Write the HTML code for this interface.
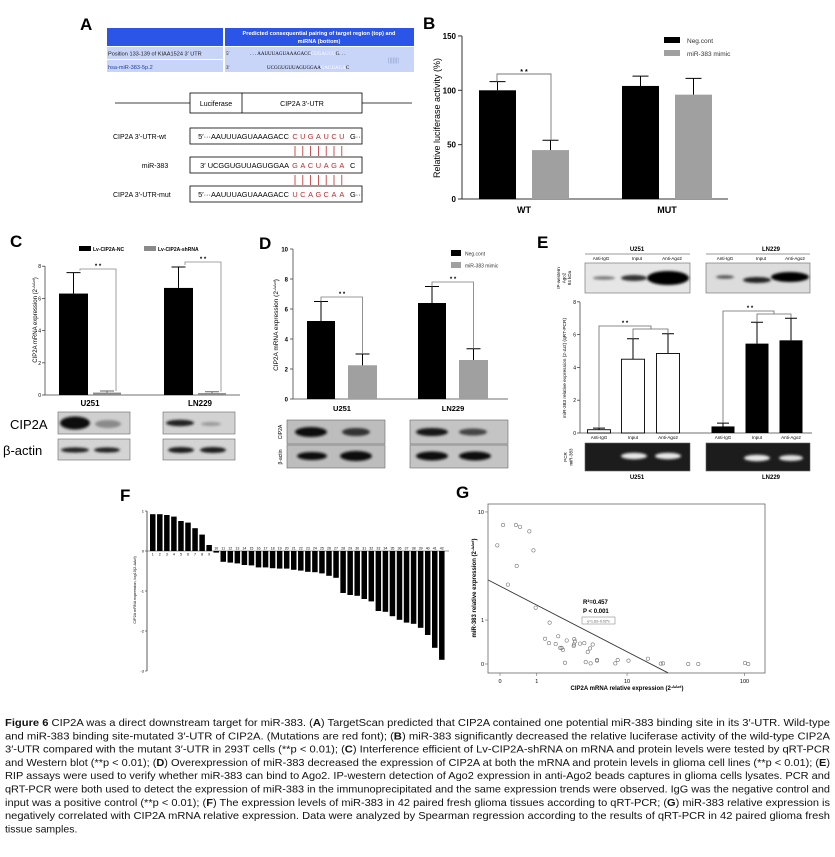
<!DOCTYPE html>
<html><head><meta charset="utf-8"><style>
html,body{margin:0;padding:0;background:#fff}
svg{display:block;font-family:"Liberation Sans",Arial,sans-serif}
</style></head><body>
<svg id="fig" width="835" height="857" viewBox="0 0 835 857" xmlns="http://www.w3.org/2000/svg">
<defs><filter id="bl" x="-50%" y="-100%" width="200%" height="300%"><feGaussianBlur stdDeviation="1.4"/></filter></defs>
<rect width="835" height="857" fill="#fff"/>

<!-- Panel A -->
<g>
<text x="80" y="30" font-size="17" font-weight="bold">A</text>
<rect x="107" y="28" width="116" height="18" fill="#2b55e6"/>
<rect x="225" y="28" width="189" height="18" fill="#2b55e6"/>
<text x="319" y="35" font-size="5.6" font-weight="bold" fill="#fff" text-anchor="middle">Predicted consequential pairing of target region (top) and</text>
<text x="319" y="43" font-size="5.6" font-weight="bold" fill="#fff" text-anchor="middle">miRNA (bottom)</text>
<rect x="107" y="47" width="116" height="12" fill="#c9d5f8"/>
<rect x="225" y="47" width="189" height="25" fill="#c9d5f8"/>
<rect x="107" y="60" width="116" height="12" fill="#c9d5f8"/>
<text x="108" y="55.5" font-size="5.6" fill="#222">Position 133-139 of KIAA1524 3′ UTR</text>
<text x="108" y="69" font-size="5.6" fill="#2240b0">hsa-miR-383-5p.2</text>
<text x="226" y="55" font-size="5" font-family="Liberation Serif,serif">5′</text>
<text x="250" y="55" font-size="5" font-family="Liberation Serif,serif">. . . AAUUUAGUAAAGACC<tspan fill="#fff">CUGAUCU</tspan>G. . .</text>
<text x="226" y="69" font-size="5" font-family="Liberation Serif,serif">3′</text>
<text x="267" y="69" font-size="5" font-family="Liberation Serif,serif">UCGGUGUUAGUGGAA<tspan fill="#fff">GACUAGA</tspan>C</text>
<text x="388" y="62" font-size="6" fill="#8899cc">|||||||</text>

<line x1="115" y1="103" x2="190" y2="103" stroke="#000" stroke-width="0.8"/>
<line x1="362" y1="103" x2="412" y2="103" stroke="#000" stroke-width="0.8"/>
<rect x="190" y="93" width="172" height="20" fill="#fff" stroke="#000" stroke-width="0.8"/>
<line x1="242" y1="93" x2="242" y2="113" stroke="#000" stroke-width="0.8"/>
<text x="216" y="106" font-size="7" text-anchor="middle">Luciferase</text>
<text x="302" y="106" font-size="7" text-anchor="middle">CIP2A  3′-UTR</text>

<rect x="190" y="128" width="172" height="16" fill="none" stroke="#000" stroke-width="0.8"/>
<rect x="190" y="157" width="172" height="16" fill="none" stroke="#000" stroke-width="0.8"/>
<rect x="190" y="186" width="172" height="16" fill="none" stroke="#000" stroke-width="0.8"/>
<text x="113" y="139" font-size="7">CIP2A  3′-UTR-wt</text>
<text x="155" y="168" font-size="7" text-anchor="middle">miR-383</text>
<text x="113" y="197" font-size="7">CIP2A  3′-UTR-mut</text>
<text x="289" y="139" font-size="7.4" text-anchor="end">5′···AAUUUAGUAAAGACC</text>
<text x="289" y="168" font-size="7.4" text-anchor="end">3′  UCGGUGUUAGUGGAA</text>
<text x="289" y="197" font-size="7.4" text-anchor="end">5′···AAUUUAGUAAAGACC</text>
<g id="seqA"></g>
</g>

<!-- Panel labels -->
<text x="423" y="29" font-size="17" font-weight="bold">B</text>
<text x="10" y="247" font-size="17" font-weight="bold">C</text>
<text x="259" y="249" font-size="17" font-weight="bold">D</text>
<text x="537" y="248" font-size="17" font-weight="bold">E</text>
<text x="120" y="501" font-size="17" font-weight="bold">F</text>
<text x="456" y="498" font-size="17" font-weight="bold">G</text>

<g id="charts"></g>

<!-- Caption -->
<g font-size="10.5" fill="#111">
<text x="5" y="726" textLength="825" lengthAdjust="spacingAndGlyphs"><tspan font-weight="bold">Figure 6</tspan> CIP2A was a direct downstream target for miR-383. (<tspan font-weight="bold">A</tspan>) TargetScan predicted that CIP2A contained one potential miR-383 binding site in its 3′-UTR. Wild-type</text>
<text x="5" y="739.3" textLength="825" lengthAdjust="spacingAndGlyphs">and miR-383 binding site-mutated 3′-UTR of CIP2A. (Mutations are red font); (<tspan font-weight="bold">B</tspan>) miR-383 significantly decreased the relative luciferase activity of the wild-type CIP2A</text>
<text x="5" y="752.6" textLength="825" lengthAdjust="spacingAndGlyphs">3′-UTR compared with the mutant 3′-UTR in 293T cells (**p &lt; 0.01); (<tspan font-weight="bold">C</tspan>) Interference efficient of Lv-CIP2A-shRNA on mRNA and protein levels were tested by qRT-PCR</text>
<text x="5" y="765.9" textLength="825" lengthAdjust="spacingAndGlyphs">and Western blot (**p &lt; 0.01); (<tspan font-weight="bold">D</tspan>) Overexpression of miR-383 decreased the expression of CIP2A at both the mRNA and protein levels in glioma cell lines (**p &lt; 0.01); (<tspan font-weight="bold">E</tspan>)</text>
<text x="5" y="779.2" textLength="825" lengthAdjust="spacingAndGlyphs">RIP assays were used to verify whether miR-383 can bind to Ago2. IP-western detection of Ago2 expression in anti-Ago2 beads captures in glioma cells lysates. PCR and</text>
<text x="5" y="792.5" textLength="825" lengthAdjust="spacingAndGlyphs">qRT-PCR were both used to detect the expression of miR-383 in the immunoprecipitated and the same expression trends were observed. IgG was the negative control and</text>
<text x="5" y="805.8" textLength="825" lengthAdjust="spacingAndGlyphs">input was a positive control (**p &lt; 0.01); (<tspan font-weight="bold">F</tspan>) The expression levels of miR-383 in 42 paired fresh glioma tissues according to qRT-PCR; (<tspan font-weight="bold">G</tspan>) miR-383 relative expression is</text>
<text x="5" y="819.1" textLength="825" lengthAdjust="spacingAndGlyphs">negatively correlated with CIP2A mRNA relative expression. Data were analyzed by Spearman regression according to the results of qRT-PCR in 42 paired glioma fresh</text>
<text x="5" y="832.4">tissue samples.</text>
</g>
</svg>

<script>
// ---------- data ----------
const bCategories = ['WT', 'MUT'];
const bNegCont = [100, 104];
const bNegErr = [8, 9];
const bMimic = [45, 96];
const bMimicErr = [9, 15];
const bTicks = [0, 50, 100, 150];

const cCategories = ['U251', 'LN229'];
const cNC = [6.3, 6.65];
const cNCErr = [1.3, 1.3];
const cSh = [0.15, 0.12];
const cShErr = [0.1, 0.08];
const cTicks = [0, 2, 4, 6, 8];

const dCategories = ['U251', 'LN229'];
const dNeg = [5.2, 6.4];
const dNegErr = [1.3, 1.1];
const dMimic = [2.25, 2.6];
const dMimicErr = [0.75, 0.75];
const dTicks = [0, 2, 4, 6, 8, 10];

const eCategories = ['Anti-IgG', 'Input', 'Anti-Ago2'];
const eU251 = [0.2, 4.5, 4.85];
const eU251Err = [0.1, 1.25, 1.2];
const eLN229 = [0.4, 5.45, 5.65];
const eLN229Err = [0.2, 1.3, 1.35];
const eTicks = [0, 2, 4, 6, 8];

const fSamples = '1 2 3 4 5 6 7 8 9 10 11 12 13 14 15 16 17 18 19 20 21 22 23 24 25 26 27 28 29 30 31 32 33 34 35 36 37 38 39 40 41 42'.split(' ');
const fValues = [0.92, 0.92, 0.9, 0.86, 0.75, 0.71, 0.57, 0.41, 0.15, -0.04, -0.27, -0.29, -0.31, -0.35, -0.36, -0.41, -0.41, -0.43, -0.44, -0.44, -0.47, -0.49, -0.52, -0.53, -0.56, -0.62, -0.67, -1.05, -1.1, -1.12, -1.2, -1.26, -1.5, -1.52, -1.63, -1.72, -1.79, -1.82, -1.92, -2.1, -2.42, -2.72];
const fTicks = [1, 0, -1, -2, -3];

const gCIP2A = [0.06, -0.05, 0.35, 0.46, 0.74, 0.88, 0.37, 0.16, 0.96, 1.55, 1.34, 1.52, 1.86, 2.0, 2.12, 2.2, 2.28, 2.41, 2.52, 3.04, 3.06, 3.12, 3.02, 3.53, 3.91, 4.24, 4.47, 4.75, 4.04, 4.53, 5.24, 5.24, 7.81, 8.22, 10.3, 15.3, 19.8, 20.7, 33.9, 41.2, 100.9, 107.4];
const gMiR383 = [7.95, 5.5, 7.95, 7.7, 7.1, 5.0, 3.7, 2.5, 1.43, 0.92, 0.49, 0.39, 0.37, 0.55, 0.29, 0.29, 0.25, 0.02, 0.45, 0.36, 0.48, 0.43, 0.33, 0.38, 0.39, 0.21, 0.28, 0.36, 0.03, 0.01, 0.065, 0.055, 0.01, 0.065, 0.055, 0.087, 0.005, 0.01, 0, 0, 0.015, 0];
const gXTicks = [0, 1, 10, 100];
const gYTicks = [0, 1, 10];
const gRegX = [-0.2, 22.8];
const gRegY = [2.76, -0.13];

// ---------- helpers ----------
const NS = 'http://www.w3.org/2000/svg';
const root = document.getElementById('charts');
function mk(tag, attrs, parent) {
  const e = document.createElementNS(NS, tag);
  for (const k in attrs) e.setAttribute(k, attrs[k]);
  (parent || root).appendChild(e);
  return e;
}
function tx(x, y, s, attrs, parent) {
  const e = mk('text', Object.assign({x: x, y: y}, attrs || {}), parent);
  e.textContent = s;
  return e;
}
function errBar(cx, yTop, yBar, hw, color) {
  const l = mk('path', {d: `M${cx},${yBar}V${yTop}M${cx-hw},${yTop}H${cx+hw}`, stroke: color, 'stroke-width': 1, fill: 'none'});
  
  
}
function blot(x, y, w, h, bg, bands, name) {
  const g = mk('g', {});
  
  
  mk('rect', {x: x, y: y, width: w, height: h, fill: bg, stroke: '#666', 'stroke-width': 0.6}, g);
  bands.forEach(b => mk('ellipse', {cx: b[0], cy: b[1], rx: b[2], ry: b[3], fill: b[4], filter: 'url(#bl)'}, g));
}

// ---------- Panel A seed letters ----------
(function () {
  const g = document.getElementById('seqA');
  const rows = [['CUGAUCU', 139, 'G···'], ['GACUAGA', 168, 'C'], ['UCAGCAA', 197, 'G···']];
  rows.forEach(r => {
    for (let i = 0; i < 7; i++) {
      const t = tx(295 + 7.8 * i, r[1], r[0][i], {'font-size': 7.4, fill: '#c0282c', 'text-anchor': 'middle'}, g);
      
      
    }
    const s = tx(350, r[1], r[2], {'font-size': 7.4}, g);
    
    
  });
  [146, 175].forEach(y0 => {
    for (let i = 0; i < 7; i++) {
      const l = mk('line', {x1: 295 + 7.8 * i, x2: 295 + 7.8 * i, y1: y0, y2: y0 + 10, stroke: '#c0282c', 'stroke-width': 0.8}, g);
      
      
    }
  });
})();

// ---------- Panel B ----------
(function () {
  const y = v => 199 - v * 1.087;
  const centers = [524, 667];
  const ax = mk('path', {d: 'M462,36V199H728', stroke: '#333', 'stroke-width': 1, fill: 'none'});
  
  
  bTicks.forEach(t => {
    mk('line', {x1: 458, x2: 462, y1: y(t), y2: y(t), stroke: '#333'});
    const l = tx(456, y(t) + 3, String(t), {'font-size': 8, 'font-weight': 'bold', 'text-anchor': 'end'});
    
    
  });
  bCategories.forEach((c, i) => {
    const cx = centers[i];
    const b1 = mk('rect', {x: cx - 45, y: y(bNegCont[i]), width: 37, height: y(0) - y(bNegCont[i]), fill: '#000'});
    
    
    errBar(cx - 26.5, y(bNegCont[i] + bNegErr[i]), y(bNegCont[i]), 8, '#000');
    const b2 = mk('rect', {x: cx + 8, y: y(bMimic[i]), width: 37, height: y(0) - y(bMimic[i]), fill: '#a0a0a0'});
    
    
    errBar(cx + 26.5, y(bMimic[i] + bMimicErr[i]), y(bMimic[i]), 8, '#000');
    const l = tx(cx, 213, c, {'font-size': 9, 'font-weight': 'bold', 'text-anchor': 'middle'});
    
    
  });
  const br = mk('path', {d: `M497,${y(bNegCont[0]+bNegErr[0])}V74H551V${y(bMimic[0]+bMimicErr[0])}`, stroke: '#777', fill: 'none', 'stroke-width': 0.9});
  
  
  const st = tx(524, 74, '* *', {'font-size': 7, 'text-anchor': 'middle', 'font-weight': 'bold'});
  
  
  const yt = tx(0, 0, 'Relative luciferase activity (%)', {'font-size': 9, 'text-anchor': 'middle', transform: 'translate(440,118) rotate(-90)'});
  
  
  const l1 = mk('rect', {x: 664, y: 37, width: 16, height: 6, fill: '#000'});
  
  
  const lt1 = tx(687, 43, 'Neg.cont', {'font-size': 6.5, fill: '#333'});
  
  
  const l2 = mk('rect', {x: 664, y: 50, width: 16, height: 6, fill: '#a0a0a0'});
  
  
  const lt2 = tx(687, 56, 'miR-383 mimic', {'font-size': 6.5, fill: '#333'});
  
  
})();

// ---------- Panel C ----------
(function () {
  const y = v => 395 - v * 16.1;
  const centers = [92, 197];
  const ax = mk('path', {d: 'M45,266V395H240', stroke: '#444', 'stroke-width': 0.8, fill: 'none'});
  
  
  cTicks.forEach(t => {
    mk('line', {x1: 42, x2: 45, y1: y(t), y2: y(t), stroke: '#444', 'stroke-width': 0.8});
    const l = tx(41, y(t) + 2, String(t), {'font-size': 5, 'text-anchor': 'end'});
    
    
  });
  cCategories.forEach((c, i) => {
    const cx = centers[i];
    const b1 = mk('rect', {x: cx - 33, y: y(cNC[i]), width: 29, height: y(0) - y(cNC[i]), fill: '#000'});
    
    
    errBar(cx - 18.5, y(cNC[i] + cNCErr[i]), y(cNC[i]), 7, '#000');
    const b2 = mk('rect', {x: cx + 1, y: y(cSh[i]), width: 28, height: y(0) - y(cSh[i]), fill: '#8a8a8a'});
    
    
    errBar(cx + 15, y(cSh[i] + cShErr[i]), y(cSh[i]), 7, '#666');
    const l = tx(cx + (i ? 3 : -2), 406, c, {'font-size': 8, 'font-weight': 'bold', 'text-anchor': 'middle'});
    
    
    const topY = i ? 262 : 269;
    const br = mk('path', {d: `M${cx-12},${y(cNC[i]+cNCErr[i])-2}V${topY}H${cx+24}V${y(cSh[i]+cShErr[i])}`, stroke: '#888', fill: 'none', 'stroke-width': 0.8});
    
    
    const st = tx(cx + 6, topY - 1, '* *', {'font-size': 6, 'text-anchor': 'middle', 'font-weight': 'bold'});
    
    
  });
  const yt = tx(0, 0, 'CIP2A mRNA expression (2', {'font-size': 6, 'text-anchor': 'middle', transform: 'translate(37,320) rotate(-90)'});
  const sp = mk('tspan', {'font-size': 4, dy: -2}, yt); sp.textContent = '-ΔΔct';
  const sp2 = mk('tspan', {dy: 2}, yt); sp2.textContent = ')';
  
  
  const l1 = mk('rect', {x: 79, y: 246, width: 12, height: 5, fill: '#000'});
  
  
  const lt1 = tx(93, 251, 'Lv-CIP2A-NC', {'font-size': 5, 'font-weight': 'bold'});
  
  
  const l2 = mk('rect', {x: 144, y: 246, width: 12, height: 5, fill: '#8a8a8a'});
  
  
  const lt2 = tx(158, 251, 'Lv-CIP2A-shRNA', {'font-size': 5, 'font-weight': 'bold'});
  
  
  blot(58, 412, 72, 22, '#cfcfcf', [[75,423,15,6.5,'#111'],[108,424,13,4,'#8a8a8a']], 'c-blot-cip2a-u251');
  blot(163, 412, 72, 22, '#d2d2d2', [[180,423,14,3.2,'#222'],[211,424,10,2,'#9a9a9a']], 'c-blot-cip2a-ln229');
  blot(58, 439, 72, 21, '#d4d4d4', [[75,450,14,2.6,'#222'],[107,450,13,2.6,'#222']], 'c-blot-actin-u251');
  blot(163, 439, 72, 21, '#d4d4d4', [[181,450,13,3,'#1a1a1a'],[213,450,13,3,'#1a1a1a']], 'c-blot-actin-ln229');
  const bl1 = tx(10, 429, 'CIP2A', {'font-size': 13});
  
  
  const bl2 = tx(3, 455, 'β-actin', {'font-size': 13});
  
  
})();

// ---------- Panel D ----------
(function () {
  const y = v => 399 - v * 15;
  const centers = [342, 453];
  const ax = mk('path', {d: 'M293,249V399H508', stroke: '#444', 'stroke-width': 0.8, fill: 'none'});
  
  
  dTicks.forEach(t => {
    mk('line', {x1: 290, x2: 293, y1: y(t), y2: y(t), stroke: '#444', 'stroke-width': 0.8});
    const l = tx(288, y(t) + 2.5, String(t), {'font-size': 6, 'text-anchor': 'end', 'font-weight': 'bold'});
    
    
  });
  dCategories.forEach((c, i) => {
    const cx = centers[i];
    const b1 = mk('rect', {x: cx - 35, y: y(dNeg[i]), width: 28, height: y(0) - y(dNeg[i]), fill: '#000'});
    
    
    errBar(cx - 21, y(dNeg[i] + dNegErr[i]), y(dNeg[i]), 7, '#000');
    const b2 = mk('rect', {x: cx + 6, y: y(dMimic[i]), width: 29, height: y(0) - y(dMimic[i]), fill: '#a0a0a0'});
    
    
    errBar(cx + 20.5, y(dMimic[i] + dMimicErr[i]), y(dMimic[i]), 7, '#000');
    const l = tx(cx, 411, c, {'font-size': 7.5, 'font-weight': 'bold', 'text-anchor': 'middle'});
    
    
    const topY = i ? 282 : 297;
    const br = mk('path', {d: `M${cx-21},${y(dNeg[i]+dNegErr[i])}V${topY}H${cx+20.5}V${y(dMimic[i]+dMimicErr[i])}`, stroke: '#777', fill: 'none', 'stroke-width': 0.8});
    
    
    const st = tx(cx, topY - 1, '* *', {'font-size': 6, 'text-anchor': 'middle', 'font-weight': 'bold'});
    
    
  });
  const yt = tx(0, 0, 'CIP2A mRNA expression (2', {'font-size': 6.5, 'text-anchor': 'middle', transform: 'translate(278,325) rotate(-90)'});
  const sp = mk('tspan', {'font-size': 4, dy: -2}, yt); sp.textContent = '-ΔΔct';
  const sp2 = mk('tspan', {dy: 2}, yt); sp2.textContent = ')';
  
  
  const l1 = mk('rect', {x: 451, y: 250, width: 10, height: 6, fill: '#000'});
  
  
  const lt1 = tx(465, 255.5, 'Neg.cont', {'font-size': 5, fill: '#333'});
  
  
  const l2 = mk('rect', {x: 451, y: 262, width: 10, height: 6, fill: '#a0a0a0'});
  
  
  const lt2 = tx(465, 267.5, 'miR-383 mimic', {'font-size': 5, fill: '#333'});
  
  
  blot(287, 420, 98, 24, '#bdbdbd', [[311,432,16,5,'#111'],[356,432,14,4,'#333']], 'd-blot-cip2a-u251');
  blot(410, 420, 98, 24, '#c4c4c4', [[432,432,16,4,'#181818'],[473,432,14,3.5,'#444']], 'd-blot-cip2a-ln229');
  blot(287, 445, 98, 23, '#bdbdbd', [[312,456,15,4,'#111'],[356,456,16,5,'#111']], 'd-blot-actin-u251');
  blot(410, 445, 98, 23, '#c4c4c4', [[432,456,16,4.5,'#111'],[475,456,16,4.5,'#111']], 'd-blot-actin-ln229');
  const bl1 = tx(0, 0, 'CIP2A', {'font-size': 5, 'text-anchor': 'middle', transform: 'translate(282,432) rotate(-90)'});
  
  
  const bl2 = tx(0, 0, 'β-actin', {'font-size': 5, 'text-anchor': 'middle', transform: 'translate(282,457) rotate(-90)'});
  
  
})();

// ---------- Panel E ----------
(function () {
  const y = v => 433 - v * 16.4;
  const cU = [599, 633, 668], cL = [723, 757, 791];
  const ax = mk('path', {d: 'M580,302V433H812', stroke: '#444', 'stroke-width': 0.8, fill: 'none'});
  
  
  eTicks.forEach(t => {
    mk('line', {x1: 577, x2: 580, y1: y(t), y2: y(t), stroke: '#444', 'stroke-width': 0.8});
    const l = tx(576, y(t) + 2, String(t), {'font-size': 5, 'text-anchor': 'end'});
    
    
  });
  eCategories.forEach((c, i) => {
    const b1 = mk('rect', {x: cU[i] - 11.5, y: y(eU251[i]), width: 23, height: y(0) - y(eU251[i]), fill: '#fff', stroke: '#000', 'stroke-width': 0.9});
    
    
    errBar(cU[i], y(eU251[i] + eU251Err[i]), y(eU251[i]), 6, '#000');
    const b2 = mk('rect', {x: cL[i] - 11.5, y: y(eLN229[i]), width: 23, height: y(0) - y(eLN229[i]), fill: '#000'});
    
    
    errBar(cL[i], y(eLN229[i] + eLN229Err[i]), y(eLN229[i]), 6, '#000');
    [cU[i], cL[i]].forEach(cx => {
      const l = tx(cx, 439, c, {'font-size': 4.5, 'text-anchor': 'middle'});
      
      
    });
  });
  const br1 = mk('path', {d: `M${cU[0]},${y(eU251[0]+eU251Err[0])}V326H651V329M633,${y(eU251[1]+eU251Err[1])}V329H668V${y(eU251[2]+eU251Err[2])}`, stroke: '#666', fill: 'none', 'stroke-width': 0.8});
  
  
  const br2 = mk('path', {d: `M${cL[0]},${y(eLN229[0]+eLN229Err[0])}V311H774V314M757,${y(eLN229[1]+eLN229Err[1])}V314H791V${y(eLN229[2]+eLN229Err[2])}`, stroke: '#666', fill: 'none', 'stroke-width': 0.8});
  
  
  const s1 = tx(625, 325, '* *', {'font-size': 6, 'text-anchor': 'middle', 'font-weight': 'bold'});
  
  
  const s2 = tx(750, 310, '* *', {'font-size': 6, 'text-anchor': 'middle', 'font-weight': 'bold'});
  
  
  const yt = tx(0, 0, 'miR-383 relative expression (2-Δct) (qRT-PCR)', {'font-size': 4.8, 'text-anchor': 'middle', transform: 'translate(566,368) rotate(-90)'});
  
  
  [['U251', 637, 585, 690, cU], ['LN229', 771, 706, 810, cL]].forEach(h => {
    const t = tx(h[1], 251, h[0], {'font-size': 6, 'font-weight': 'bold', 'text-anchor': 'middle'});
    
    
    const ln = mk('line', {x1: h[2], x2: h[3], y1: 254, y2: 254, stroke: '#333', 'stroke-width': 0.6});
    
    
    const bt = tx(h[1], 479, h[0], {'font-size': 6, 'font-weight': 'bold', 'text-anchor': 'middle'});
    
    
    eCategories.forEach((c, i) => {
      const lt = tx(h[4][i] + (i === 0 ? 2 : 4), 260, c, {'font-size': 4.5, 'text-anchor': 'middle'});
      
      
    });
  });
  blot(585, 263, 105, 30, '#e6e6e6', [[604,278,11,1.8,'#777'],[634,278,13,3,'#333'],[668,278,21,7,'#000']], 'e-western-u251');
  blot(706, 263, 104, 30, '#dcdcdc', [[725,277,9,1.8,'#555'],[757,280,14,3,'#222'],[790,277,19,5,'#000']], 'e-western-ln229');
  blot(585, 443, 105, 28, '#1c1c1c', [[634,456,13,3.2,'#e8e8e8'],[668,456,13,3.2,'#e8e8e8']], 'e-gel-u251');
  blot(706, 443, 104, 28, '#1c1c1c', [[757,458,13,3.2,'#e8e8e8'],[791,458,12,3,'#e0e0e0']], 'e-gel-ln229');
  ['IP-western', 'Ago2', '84 kDa'].forEach((s, i) => {
    const t = tx(0, 0, s, {'font-size': 4.5, 'text-anchor': 'middle', transform: `translate(${560 + i * 5.5},278) rotate(-90)`});
    
    
  });
  ['PCR', 'miR-383'].forEach((s, i) => {
    const t = tx(0, 0, s, {'font-size': 4.5, 'text-anchor': 'middle', transform: `translate(${567 + i * 5.5},457) rotate(-90)`});
    
    
  });
})();

// ---------- Panel F ----------
(function () {
  const y = v => 551 - v * 40;
  const x = i => 150 + i * 7.05;
  const ax = mk('path', {d: 'M147,511V671', stroke: '#333', 'stroke-width': 0.8, fill: 'none'});
  
  
  const xa = mk('line', {x1: 147, x2: 449, y1: y(0), y2: y(0), stroke: '#333', 'stroke-width': 0.6});
  
  
  fTicks.forEach(t => {
    mk('line', {x1: 145, x2: 147, y1: y(t), y2: y(t), stroke: '#333', 'stroke-width': 0.6});
    const l = tx(144, y(t) + 1.5, String(t), {'font-size': 4, 'text-anchor': 'end'});
    
    
  });
  fValues.forEach((v, i) => {
    const r = mk('rect', {x: x(i), y: Math.min(y(v), y(0)), width: 5.5, height: Math.abs(y(v) - y(0)), fill: '#000'});
    
    
    const l = tx(x(i) + 2.75, v >= 0 ? y(0) + 4.5 : y(0) - 1.5, fSamples[i], {'font-size': 3.6, 'text-anchor': 'middle'});
    
    
  });
  const yt = tx(0, 0, 'CIP2A mRNA expression, log10(2-ΔΔct)', {'font-size': 3.8, 'text-anchor': 'middle', transform: 'translate(136,590) rotate(-90)'});
  
  
})();

// ---------- Panel G ----------
(function () {
  const x = v => 500 + 122 * Math.log10(v + 1);
  const y = v => 664 - 146 * Math.log10(v + 1);
  const box = mk('rect', {x: 488, y: 504, width: 277, height: 169, fill: 'none', stroke: '#666', 'stroke-width': 0.8});
  
  
  gXTicks.forEach(t => {
    mk('line', {x1: x(t), x2: x(t), y1: 673, y2: 676, stroke: '#666', 'stroke-width': 0.6});
    const l = tx(x(t), 683, String(t), {'font-size': 5.5, 'text-anchor': 'middle'});
    
    
  });
  gYTicks.forEach(t => {
    mk('line', {x1: 485, x2: 488, y1: y(t), y2: y(t), stroke: '#666', 'stroke-width': 0.6});
    const l = tx(484, y(t) + 2, String(t), {'font-size': 5.5, 'text-anchor': 'end'});
    
    
  });
  gCIP2A.forEach((v, i) => {
    const c = mk('circle', {cx: x(v), cy: y(gMiR383[i]), r: 1.7, fill: 'none', stroke: '#777', 'stroke-width': 0.6});
    
    
  });
  const ln = mk('line', {x1: x(gRegX[0]), y1: y(gRegY[0]), x2: x(gRegX[1]), y2: y(gRegY[1]), stroke: '#333', 'stroke-width': 0.9});
  
  
  const r2 = tx(583, 604, 'R²=0.457', {'font-size': 6, 'font-weight': 'bold'});
  
  
  const p = tx(583, 613, 'P < 0.001', {'font-size': 6, 'font-weight': 'bold'});
  
  
  const eb = mk('rect', {x: 582, y: 617, width: 33, height: 7, fill: 'none', stroke: '#777', 'stroke-width': 0.5});
  
  
  const eq = tx(598.5, 622.5, 'y=1.63−0.02*x', {'font-size': 3.5, 'text-anchor': 'middle', fill: '#555'});
  
  
  const xt = tx(627, 690, 'CIP2A mRNA relative expression (2', {'font-size': 6, 'font-weight': 'bold', 'text-anchor': 'middle'});
  const s1 = mk('tspan', {'font-size': 4, dy: -2}, xt); s1.textContent = '-ΔΔct';
  const s2 = mk('tspan', {dy: 2}, xt); s2.textContent = ')';
  
  
  const yt = tx(0, 0, 'miR-383 relative expression (2', {'font-size': 6, 'font-weight': 'bold', 'text-anchor': 'middle', transform: 'translate(476,588) rotate(-90)'});
  const s3 = mk('tspan', {'font-size': 4, dy: -2}, yt); s3.textContent = '-ΔΔct';
  const s4 = mk('tspan', {dy: 2}, yt); s4.textContent = ')';
  
  
})();
</script>
</body></html>
